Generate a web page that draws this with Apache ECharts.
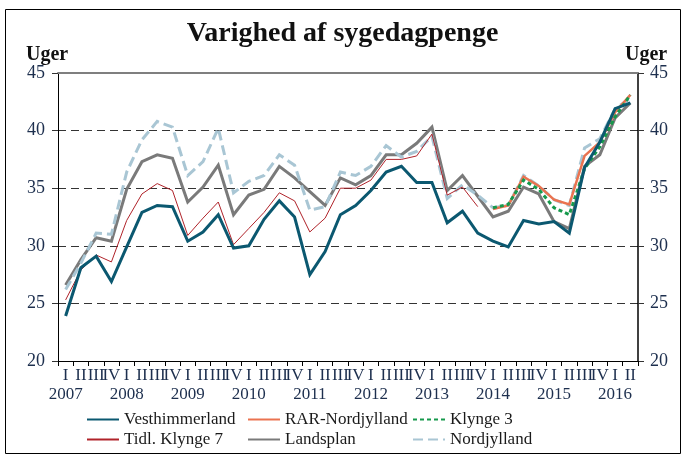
<!DOCTYPE html>
<html>
<head>
<meta charset="utf-8">
<script src="https://cdn.jsdelivr.net/npm/echarts@6/dist/echarts.min.js"></script>
<style>
  html, body { margin: 0; padding: 0; background: #fff; }
  #chart { width: 685px; height: 457px; }
</style>
</head>
<body>
<div id="chart"></div>
<script>
// Quarters 2007 I – 2016 II
const years = [2007, 2008, 2009, 2010, 2011, 2012, 2013, 2014, 2015, 2016];
const quarters = ['I', 'II', 'III', 'IV'];
const nQuarters = 38;

// Weeks on sickness benefit (uger)
const vesthimmerland = [23.9, 28.1, 29.1, 26.9, 29.9, 32.9, 33.5, 33.4, 30.4, 31.2, 32.7, 29.8, 30.0, 32.3, 33.9, 32.5, 27.5, 29.5, 32.7, 33.5, 34.8, 36.4, 36.9, 35.5, 35.5, 32.0, 33.0, 31.1, 30.4, 29.9, 32.2, 31.9, 32.1, 31.1, 36.8, 39.0, 41.9, 42.4];
const rarNordjylland = [null, null, null, null, null, null, null, null, null, null, null, null, null, null, null, null, null, null, null, null, null, null, null, null, null, null, null, null, 33.2, 33.5, 36.0, 35.2, 34.0, 33.6, 37.8, 39.0, 41.6, 43.1];
const klynge3 = [null, null, null, null, null, null, null, null, null, null, null, null, null, null, null, null, null, null, null, null, null, null, null, null, null, null, null, null, 33.3, 33.6, 35.7, 34.9, 33.3, 32.7, 36.7, 38.6, 41.2, 43.1];
const tidlKlynge7 = [25.3, 27.9, 29.2, 28.6, 32.2, 34.5, 35.4, 34.8, 30.9, 32.4, 33.8, 30.1, 31.5, 32.9, 34.6, 33.9, 31.2, 32.4, 35.0, 35.0, 35.7, 37.5, 37.5, 37.8, 39.7, 34.4, 35.1, 33.4, null, null, null, null, null, null, null, null, null, null];
const landsplan = [26.6, 28.8, 30.7, 30.4, 34.9, 37.3, 37.9, 37.6, 33.8, 35.1, 37.0, 32.7, 34.4, 34.9, 36.9, 35.9, 34.7, 33.5, 35.9, 35.3, 36.1, 37.9, 37.9, 38.9, 40.3, 34.8, 36.1, 34.3, 32.5, 33.0, 35.1, 34.5, 32.1, 31.5, 36.9, 37.9, 41.1, 42.4];
const nordjylland = [26.2, 28.5, 31.1, 31.0, 36.4, 39.2, 40.8, 40.3, 36.1, 37.3, 40.2, 34.6, 35.6, 36.1, 37.9, 37.0, 33.1, 33.4, 36.4, 36.1, 36.9, 38.7, 37.7, 38.2, 39.5, 34.1, 35.3, 34.4, 33.3, 33.5, 36.1, 35.2, 34.0, 33.5, 38.5, 39.3, 41.9, 42.8];

const yTicks = { min: 20, max: 45, step: 5 };

// Category labels: roman quarter, year on a second line under quarter I
const categories = [];
for (let i = 0; i < nQuarters; i++) {
  const q = quarters[i % 4];
  const y = years[Math.floor(i / 4)];
  categories.push(i % 4 === 0 ? q + '\n' + y : q);
}

const serif = '"Liberation Serif", "DejaVu Serif", serif';
const labelColor = '#1d2f4e';

const chart = echarts.init(document.getElementById('chart'), null, { renderer: 'canvas' });

function lineSeries(name, data, color, width, type, z) {
  return {
    name: name,
    type: 'line',
    data: data,
    symbol: 'none',
    smooth: false,
    connectNulls: false,
    z: z,
    lineStyle: { color: color, width: width, type: type, cap: 'butt', join: 'miter' },
    itemStyle: { color: color },
    emphasis: { disabled: true }
  };
}

const legendCommon = {
  orient: 'vertical',
  padding: 0,
  itemWidth: 32,
  itemHeight: 14,
  itemGap: 3,
  selectedMode: false,
  itemStyle: { opacity: 0, borderWidth: 0 },
  textStyle: { fontFamily: serif, fontSize: 17, color: '#1a1a1a', padding: [0, 0, 0, 0] }
};

chart.setOption({
  animation: false,
  backgroundColor: '#fff',
  title: {
    text: 'Varighed af sygedagpenge',
    left: 'center',
    top: 15,
    textStyle: { fontFamily: serif, fontSize: 28, fontWeight: 'bold', color: '#111' }
  },
  grid: { left: 58, right: 47, top: 73, bottom: 96, containLabel: false },
  legend: [
    Object.assign({ left: 86, top: 411, data: ['Vesthimmerland', 'Tidl. Klynge 7'] }, legendCommon),
    Object.assign({ left: 247, top: 411, data: ['RAR-Nordjylland', 'Landsplan'] }, legendCommon),
    Object.assign({ left: 412, top: 411, data: ['Klynge 3', 'Nordjylland'] }, legendCommon)
  ],
  xAxis: [
    {
      type: 'category',
      data: categories,
      boundaryGap: true,
      axisLine: { show: true, lineStyle: { color: '#000', width: 1 } },
      axisTick: { show: true, interval: 0, length: 5, lineStyle: { color: '#000' } },
      axisLabel: {
        interval: 0,
        margin: 5,
        fontFamily: serif,
        fontSize: 17,
        lineHeight: 19,
        color: labelColor
      },
      splitLine: { show: false }
    },
    {
      type: 'category',
      data: categories,
      position: 'top',
      boundaryGap: true,
      axisLine: { show: true, lineStyle: { color: '#7f7f7f', width: 2 } },
      axisTick: { show: false },
      axisLabel: { show: false },
      splitLine: { show: false }
    }
  ],
  yAxis: [
    {
      type: 'value',
      position: 'left',
      min: yTicks.min,
      max: yTicks.max,
      interval: yTicks.step,
      axisLine: { show: true, lineStyle: { color: '#000', width: 1 } },
      axisTick: { show: true, length: 6, lineStyle: { color: '#333' } },
      axisLabel: { margin: 13, fontFamily: serif, fontSize: 18, color: labelColor },
      splitLine: { show: true, lineStyle: { color: '#333', width: 1, type: [8, 5] } }
    },
    {
      type: 'value',
      position: 'right',
      min: yTicks.min,
      max: yTicks.max,
      interval: yTicks.step,
      axisLine: { show: true, lineStyle: { color: '#000', width: 1.5 } },
      axisTick: { show: true, length: 6, lineStyle: { color: '#333' } },
      axisLabel: { margin: 12, fontFamily: serif, fontSize: 18, color: labelColor },
      splitLine: { show: false }
    }
  ],
  graphic: [
    {
      type: 'rect',
      shape: { x: 5.5, y: 9.5, width: 675, height: 444 },
      style: { fill: 'none', stroke: '#000', lineWidth: 1 },
      silent: true,
      z: -1
    },
    {
      type: 'text',
      left: 26, top: 45,
      style: { text: 'Uger', font: 'bold 20px ' + serif, fill: '#111' }
    },
    {
      type: 'text',
      left: 625, top: 45,
      style: { text: 'Uger', font: 'bold 20px ' + serif, fill: '#111' }
    }
  ],
  series: [
    lineSeries('Landsplan', landsplan, '#7a7a7a', 3, 'solid', 2),
    lineSeries('Nordjylland', nordjylland, '#a9c6d4', 3, [10, 5], 3),
    lineSeries('Tidl. Klynge 7', tidlKlynge7, '#b0232a', 1, 'solid', 4),
    lineSeries('RAR-Nordjylland', rarNordjylland, '#ea7350', 2.5, 'solid', 4),
    lineSeries('Klynge 3', klynge3, '#16994c', 3, [4, 3], 5),
    lineSeries('Vesthimmerland', vesthimmerland, '#0b5870', 3, 'solid', 6)
  ]
});
</script>
</body>
</html>
